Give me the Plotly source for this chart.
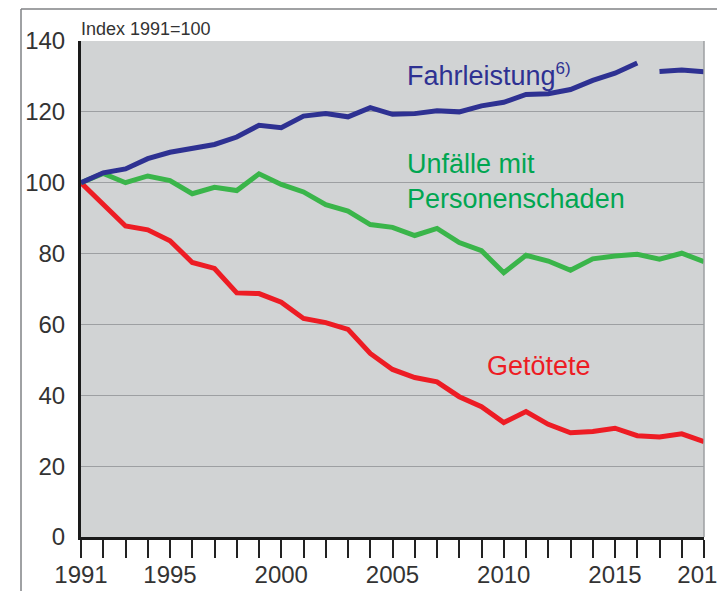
import plotly.graph_objects as go

years = list(range(1991, 2020))
fahr_years_a = list(range(1991, 2017))
fahrleistung_a = [100, 102.8, 103.9, 106.8, 108.6, 109.7, 110.8, 112.9, 116.2, 115.5,
                  118.8, 119.5, 118.6, 121.2, 119.3, 119.5, 120.3, 120.0, 121.7, 122.7,
                  124.9, 125.1, 126.3, 128.9, 130.9, 133.8]
fahr_years_b = [2017, 2018, 2019]
fahrleistung_b = [131.4, 131.8, 131.3]
unfaelle = [100, 102.6, 100.0, 101.9, 100.6, 96.9, 98.7, 97.8, 102.5, 99.5,
            97.4, 93.8, 92.0, 88.2, 87.4, 85.1, 87.1, 83.1, 80.8, 74.6,
            79.5, 77.9, 75.3, 78.5, 79.3, 79.8, 78.4, 80.1, 77.7]
getoetete = [100, 93.9, 87.8, 86.7, 83.6, 77.5, 75.8, 68.9, 68.7, 66.3,
             61.7, 60.5, 58.6, 51.8, 47.3, 45.0, 43.8, 39.6, 36.8, 32.3,
             35.4, 31.8, 29.4, 29.8, 30.7, 28.6, 28.2, 29.1, 26.9]
x_label_years = [1991, 1995, 2000, 2005, 2010, 2015, 2019]
y_ticks = [0, 20, 40, 60, 80, 100, 120, 140]

BLUE = "#2e3192"
GREEN = "#3ab54a"
GREEN_TXT = "#00a651"
RED = "#ed1c24"
INK = "#333333"
FONT = "Liberation Sans"

fig = go.Figure()
line_style = dict(width=5)
fig.add_trace(go.Scatter(x=years, y=getoetete, mode="lines",
                         line=dict(color=RED, **line_style), hoverinfo="skip"))
fig.add_trace(go.Scatter(x=years, y=unfaelle, mode="lines",
                         line=dict(color=GREEN, **line_style), hoverinfo="skip"))
fig.add_trace(go.Scatter(x=fahr_years_a, y=fahrleistung_a, mode="lines",
                         line=dict(color=BLUE, **line_style), hoverinfo="skip"))
fig.add_trace(go.Scatter(x=fahr_years_b, y=fahrleistung_b, mode="lines",
                         line=dict(color=BLUE, **line_style), hoverinfo="skip"))

fig.update_layout(
    width=725, height=591,
    margin=dict(l=73, r=29, t=33, b=62),
    paper_bgcolor="white",
    plot_bgcolor="#d1d3d4",
    showlegend=False,
    font=dict(family=FONT, color=INK, size=24),
    xaxis=dict(
        range=[1991, 2019],
        tickvals=x_label_years,
        ticktext=[str(y) for y in x_label_years],
        ticks="outside", ticklen=18, tickwidth=1.5, tickcolor="#222222",
        minor=dict(tick0=1991, dtick=1, ticks="outside", ticklen=18,
                   tickwidth=1.5, tickcolor="#222222", showgrid=False),
        showline=True, linecolor="#1a1a1a", linewidth=3,
        showgrid=False, zeroline=False,
        tickfont=dict(size=24, color=INK),
        ticklabelstandoff=-4,
        ticklabeloverflow="allow",
        automargin=False,
        fixedrange=True,
    ),
    yaxis=dict(
        range=[0, 140],
        tickvals=y_ticks,
        ticks="", ticklabelstandoff=8,
        showline=True, linecolor="#1a1a1a", linewidth=3,
        showgrid=True, gridcolor="#9d9fa2", gridwidth=1.2,
        zeroline=False,
        tickfont=dict(size=24, color=INK),
        automargin=False,
        fixedrange=True,
    ),
    shapes=[
        dict(type="line", xref="paper", yref="paper", x0=1, x1=1, y0=0, y1=1,
             line=dict(color="#9d9fa2", width=1.5), layer="above"),
        dict(type="line", xref="paper", yref="paper", x0=-0.0963, x1=1.2,
             y0=1.0645, y1=1.0645, line=dict(color="#808285", width=1.5)),
        dict(type="line", xref="paper", yref="paper", x0=-0.0963, x1=-0.0963,
             y0=-0.2, y1=1.0645, line=dict(color="#808285", width=1.5)),
    ],
    annotations=[
        dict(text="Index 1991=100", xref="paper", yref="paper", x=-0.004, y=1.0,
             xanchor="left", yanchor="bottom", showarrow=False,
             font=dict(size=18, color=INK, family=FONT)),
        dict(text="Fahrleistung<sup><span style='font-size:17px'>6)</span></sup>",
             xref="x", yref="y", x=2005.55, y=130.3,
             xanchor="left", yanchor="middle", showarrow=False,
             font=dict(size=27, color=BLUE, family=FONT)),
        dict(text="Unfälle mit<br>Personenschaden", xref="x", yref="y", x=2005.55, y=100.3,
             xanchor="left", yanchor="middle", align="left", showarrow=False,
             font=dict(size=27, color=GREEN_TXT, family=FONT)),
        dict(text="Getötete", xref="x", yref="y", x=2009.15, y=48.2,
             xanchor="left", yanchor="middle", showarrow=False,
             font=dict(size=27, color=RED, family=FONT)),
    ],
)

fig.write_html("out.html")
